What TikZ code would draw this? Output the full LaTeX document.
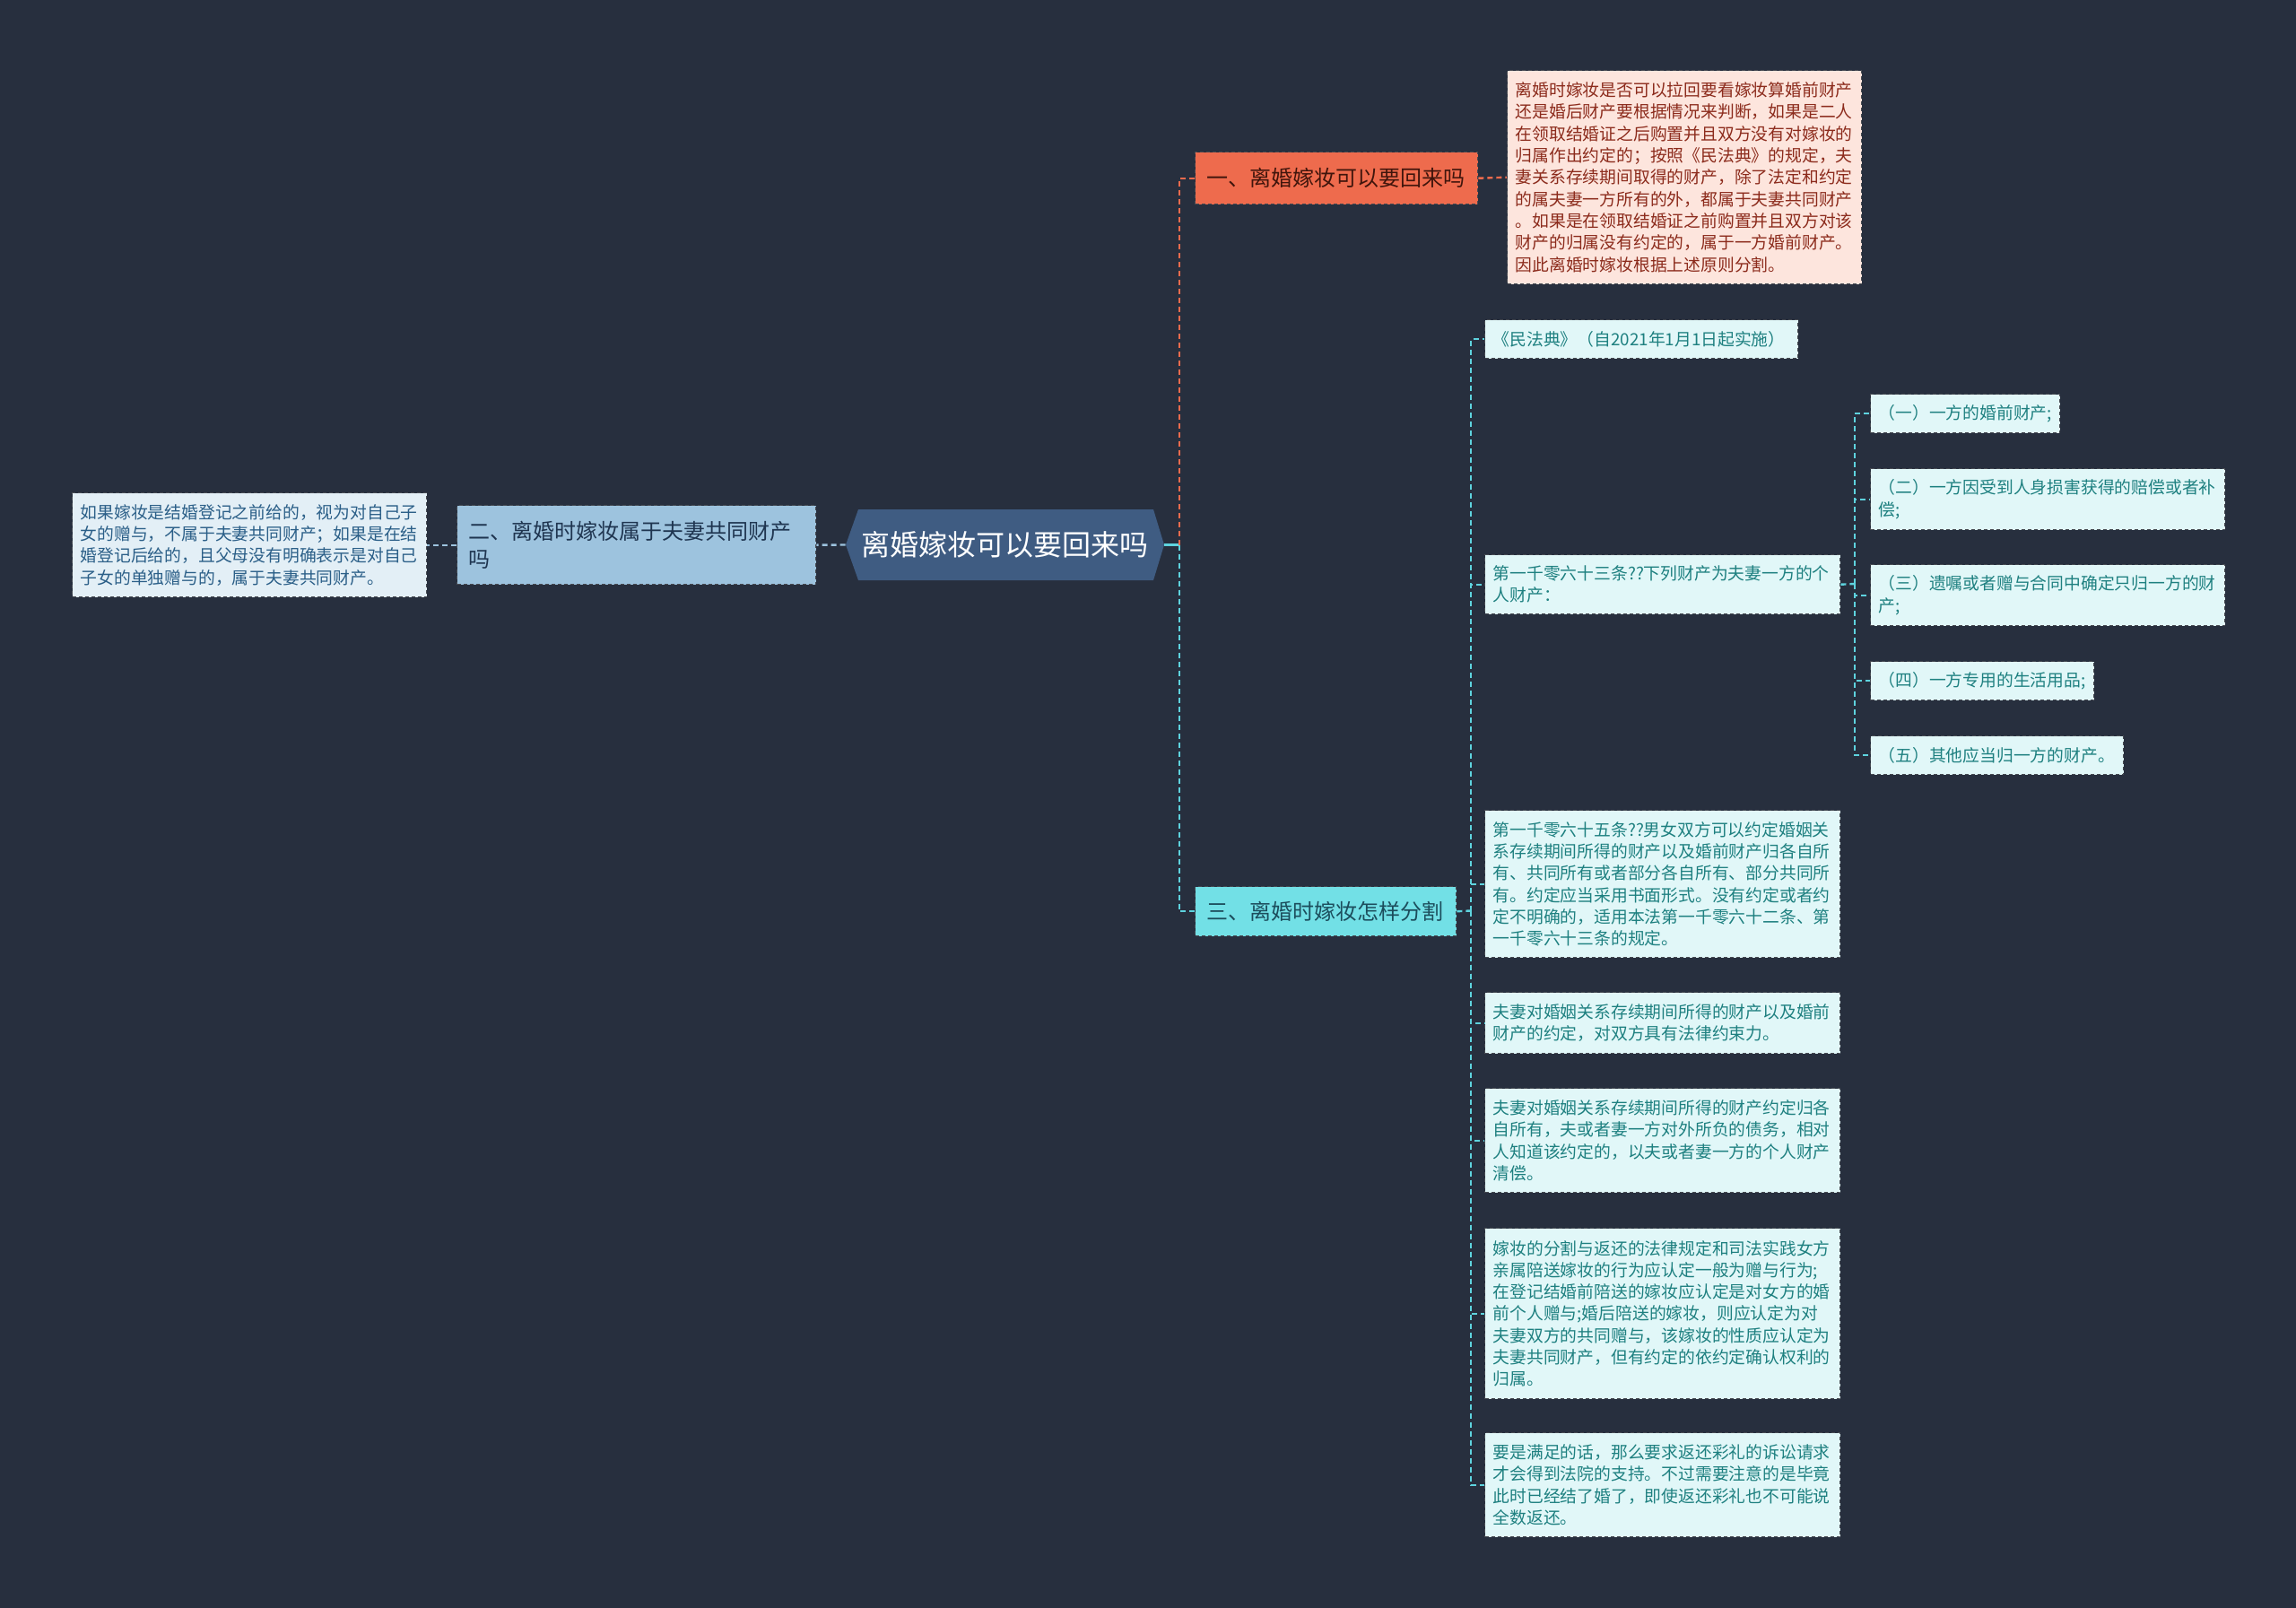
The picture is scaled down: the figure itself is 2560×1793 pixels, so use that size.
\documentclass[tikz,border=0pt]{standalone}
\usepackage{fontspec}
\setmainfont{Noto Sans CJK SC}
\definecolor{bg}{HTML}{272F3E}
\definecolor{rootfill}{HTML}{3F5C82}
\definecolor{orangefill}{HTML}{EE6B4D}
\definecolor{orangetext}{HTML}{40150C}
\definecolor{pinkfill}{HTML}{FDE5DD}
\definecolor{pinktext}{HTML}{8C2B1C}
\definecolor{cyanfill}{HTML}{72E0E6}
\definecolor{cyantext}{HTML}{1C4D5C}
\definecolor{tealfill}{HTML}{E1F7F8}
\definecolor{tealtext}{HTML}{1E8080}
\definecolor{bluefill}{HTML}{9DC3DE}
\definecolor{bluetext}{HTML}{1F3550}
\definecolor{lightfill}{HTML}{E3EFF6}
\definecolor{lighttext}{HTML}{2B5F88}
\definecolor{cyanline}{HTML}{5ED3DE}
\definecolor{orangeline}{HTML}{EE6B4D}
\definecolor{blueline}{HTML}{9DC3DE}
\definecolor{brd}{HTML}{474B52}
\tikzset{
  box/.style={rectangle, anchor=north west, align=left, inner xsep=4.5pt, inner ysep=0pt,
    draw=brd, dash pattern=on 2pt off 1.5pt, line width=0.7pt},
  leaffont/.style={font=\fontsize{9.4pt}{12.15pt}\selectfont},
  catfont/.style={font=\fontsize{12pt}{15.5pt}\selectfont},
  pinkleaf/.style={box, leaffont, fill=pinkfill, text=pinktext},
  tealleaf/.style={box, leaffont, fill=tealfill, text=tealtext},
  lightleaf/.style={box, leaffont, fill=lightfill, text=lighttext},
  catorange/.style={box, catfont, inner xsep=6.5pt, fill=orangefill, text=orangetext},
  catcyan/.style={box, catfont, inner xsep=6.5pt, fill=cyanfill, text=cyantext},
  catblue/.style={box, catfont, inner xsep=6.5pt, fill=bluefill, text=bluetext},
  rootnode/.style={rectangle, inner sep=0pt, text=white, font=\fontsize{16pt}{19pt}\selectfont},
  conn/.style={line width=1.2pt, dash pattern=on 3pt off 2pt},
}
\begin{document}
\begin{tikzpicture}[x=0.5pt,y=-0.5pt]
\fill[bg] (0,0) rectangle (2560,1793);
\useasboundingbox (0,0) rectangle (2560,1793);

% root
\fill[rootfill] (943,607.5) -- (957,568) -- (1286,568) -- (1298,607.5) -- (1286,647) -- (957,647) -- cycle;
\node[rootnode, minimum width=177.5pt, minimum height=39.5pt] (root) at (1120.5,607.5) {离婚嫁妆可以要回来吗};

% left branch
\node[catblue, minimum width=200pt, minimum height=44pt, text width=187pt] (n2) at (509,563)
  {二、离婚时嫁妆属于夫妻共同财产\\吗};
\node[lightleaf, minimum width=197.5pt, minimum height=58pt, text width=188.5pt] (L) at (80,549)
  {如果嫁妆是结婚登记之前给的，视为对自己子\\女的赠与，不属于夫妻共同财产；如果是在结\\婚登记后给的，且父母没有明确表示是对自己\\子女的单独赠与的，属于夫妻共同财产。};

% branch 1
\node[catorange, minimum width=157.5pt, minimum height=29pt, text width=144.5pt] (n1) at (1332,169)
  {一、离婚嫁妆可以要回来吗};
\node[pinkleaf, minimum width=197.5pt, minimum height=119pt, text width=188.5pt] (P) at (1680,78)
  {离婚时嫁妆是否可以拉回要看嫁妆算婚前财产\\还是婚后财产要根据情况来判断，如果是二人\\在领取结婚证之后购置并且双方没有对嫁妆的\\归属作出约定的；按照《民法典》的规定，夫\\妻关系存续期间取得的财产，除了法定和约定\\的属夫妻一方所有的外，都属于夫妻共同财产\\。如果是在领取结婚证之前购置并且双方对该\\财产的归属没有约定的，属于一方婚前财产。\\因此离婚时嫁妆根据上述原则分割。};

% branch 3
\node[catcyan, minimum width=145.5pt, minimum height=27.5pt, text width=132.5pt] (n3) at (1332,988)
  {三、离婚时嫁妆怎样分割};
\node[tealleaf, minimum width=174.5pt, minimum height=21.5pt, text width=165.5pt] (m) at (1655,356)
  {《民法典》（自2021年1月1日起实施）};
\node[tealleaf, minimum width=198pt, minimum height=33pt, text width=189pt] (a63) at (1655,618)
  {第一千零六十三条??下列财产为夫妻一方的个\\人财产：};
\node[tealleaf, minimum width=198pt, minimum height=82pt, text width=189pt] (a65) at (1655,903)
  {第一千零六十五条??男女双方可以约定婚姻关\\系存续期间所得的财产以及婚前财产归各自所\\有、共同所有或者部分各自所有、部分共同所\\有。约定应当采用书面形式。没有约定或者约\\定不明确的，适用本法第一千零六十二条、第\\一千零六十三条的规定。};
\node[tealleaf, minimum width=198pt, minimum height=34pt, text width=189pt] (b1) at (1655,1106)
  {夫妻对婚姻关系存续期间所得的财产以及婚前\\财产的约定，对双方具有法律约束力。};
\node[tealleaf, minimum width=198pt, minimum height=58pt, text width=189pt] (b2) at (1655,1213)
  {夫妻对婚姻关系存续期间所得的财产约定归各\\自所有，夫或者妻一方对外所负的债务，相对\\人知道该约定的，以夫或者妻一方的个人财产\\清偿。};
\node[tealleaf, minimum width=198pt, minimum height=95pt, text width=189pt] (b3) at (1655,1369)
  {嫁妆的分割与返还的法律规定和司法实践女方\\亲属陪送嫁妆的行为应认定一般为赠与行为;\\在登记结婚前陪送的嫁妆应认定是对女方的婚\\前个人赠与;婚后陪送的嫁妆，则应认定为对\\夫妻双方的共同赠与，该嫁妆的性质应认定为\\夫妻共同财产，但有约定的依约定确认权利的\\归属。};
\node[tealleaf, minimum width=198pt, minimum height=58pt, text width=189pt] (b4) at (1655,1597)
  {要是满足的话，那么要求返还彩礼的诉讼请求\\才会得到法院的支持。不过需要注意的是毕竟\\此时已经结了婚了，即使返还彩礼也不可能说\\全数返还。};

% sub items
\node[tealleaf, minimum width=105.5pt, minimum height=21.5pt, text width=96.5pt] (s1) at (2085,439)
  {（一）一方的婚前财产;};
\node[tealleaf, minimum width=197.5pt, minimum height=34pt, text width=188.5pt] (s2) at (2085,522)
  {（二）一方因受到人身损害获得的赔偿或者补\\偿;};
\node[tealleaf, minimum width=197.5pt, minimum height=34pt, text width=188.5pt] (s3) at (2085,629)
  {（三）遗嘱或者赠与合同中确定只归一方的财\\产;};
\node[tealleaf, minimum width=124.5pt, minimum height=21.5pt, text width=115.5pt] (s4) at (2085,737)
  {（四）一方专用的生活用品;};
\node[tealleaf, minimum width=141pt, minimum height=21.5pt, text width=132pt] (s5) at (2085,820)
  {（五）其他应当归一方的财产。};

% buses
\coordinate (bus1) at (1315,607.5);
\coordinate (bus2) at (1640,1015.5);
\coordinate (bus3) at (2068,651);

% connectors
\draw[cyanline, line width=1.2pt] (root.east) -- (bus1);
\draw[orangeline, conn] (bus1) |- (n1.west);
\draw[cyanline, conn] (bus1) |- (n3.west);
\draw[orangeline, conn] (n1.east) -- (P.west);
\draw[blueline, conn] (root.west) -- (n2.east);
\draw[blueline, conn] (n2.west) -- (L.west -| L.east);

\draw[cyanline, conn] (n3.east) -- (bus2);
\foreach \c in {m,a63,a65,b1,b2,b3,b4}{
  \draw[cyanline, conn] (bus2) |- (\c.west);
}
\draw[cyanline, conn] (a63.east) -- (bus3);
\foreach \c in {s1,s2,s3,s4,s5}{
  \draw[cyanline, conn] (bus3) |- (\c.west);
}
\end{tikzpicture}
\end{document}
